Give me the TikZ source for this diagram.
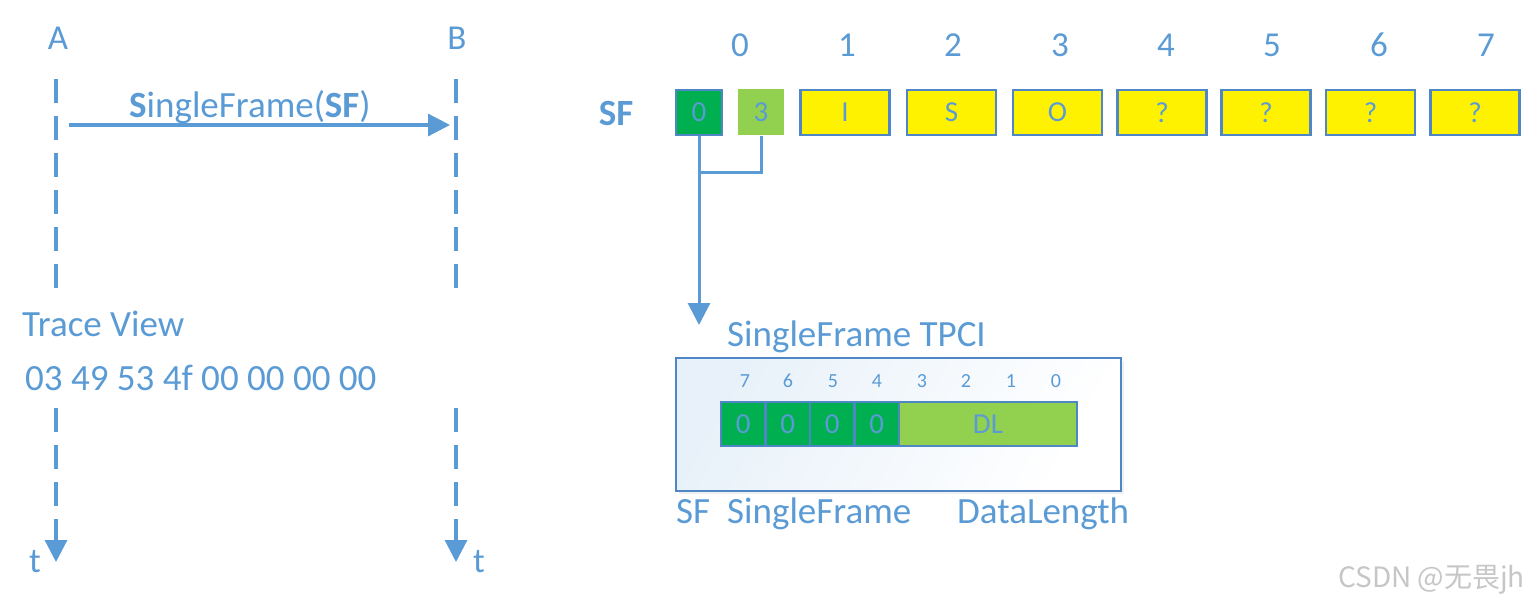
\documentclass[tikz,border=0pt]{standalone}
\usepackage{fontspec}
\setmainfont{Carlito}
\newfontfamily\cjkfont{Noto Sans CJK SC}
\usetikzlibrary{arrows.meta,shadows}
\definecolor{lineblue}{HTML}{5B9BD5}
\definecolor{edgeblue}{HTML}{4F86C6}
\definecolor{darkgreen}{HTML}{00B050}
\definecolor{lightgreen}{HTML}{92D050}

\begin{document}
\begin{tikzpicture}[x=1pt,y=-1pt,
  txt/.style={text=lineblue, inner sep=0pt, font=\fontsize{37}{40}\selectfont},
  hdr/.style={text=lineblue, inner sep=0pt, font=\fontsize{35}{38}\selectfont},
  bitnum/.style={text=lineblue, inner sep=0pt, font=\fontsize{20}{22}\selectfont},
  lifeline/.style={lineblue, line width=3.2pt, dash pattern=on 24pt off 13pt},
  flow/.style={lineblue, line width=3.2pt, -{Triangle[length=22pt,width=22pt]}},
  link/.style={lineblue, line width=3pt},
  bytebox/.style={draw=edgeblue, line width=2.4pt, minimum width=89pt, minimum height=45pt,
    inner sep=0pt, text=lineblue, font=\fontsize{29}{31}\selectfont},
  bitcell/.style={draw=edgeblue, line width=2.4pt, minimum width=44.5pt, minimum height=44pt,
    inner sep=0pt, fill=darkgreen, text=lineblue, font=\fontsize{29}{31}\selectfont}]
\useasboundingbox (0,0) rectangle (1534,602);

\node[hdr, anchor=base] (A) at (58,50) {A};
\node[hdr, anchor=base] (B) at (457,50) {B};
\coordinate (a1) at (56,79);
\coordinate (a2) at (56,290);
\coordinate (a3) at (56,408);
\coordinate (a4) at (56,562);
\coordinate (b1) at (456,79);
\coordinate (b2) at (456,290);
\coordinate (b3) at (456,408);
\coordinate (b4) at (456,562);
\draw[lifeline] (a1) -- (a2);
\draw[lifeline] (b1) -- (b2);
\draw[lifeline, -{Triangle[length=22pt,width=22pt]}] (a3) -- (a4);
\draw[lifeline, -{Triangle[length=22pt,width=22pt]}] (b3) -- (b4);
\coordinate (sfstart) at (69,125);
\coordinate (sfend) at (450,125);
\draw[flow] (sfstart) -- (sfend);
\node[txt, anchor=base west] (sfmsg) at (129,117) {\textbf{S}ingleFrame(\textbf{SF})};
\node[txt, anchor=base west] (trace) at (22,336) {Trace View};
\node[txt, anchor=base west] (bytes) at (25,390) {03 49 53 4f 00 00 00 00};
\node[hdr, anchor=base] (ta) at (35,572) {t};
\node[hdr, anchor=base] (tb) at (479,572) {t};

\node[hdr, anchor=base] (n0) at (740,57) {0};
\node[hdr, anchor=base] (n1) at (847,57) {1};
\node[hdr, anchor=base] (n2) at (953,57) {2};
\node[hdr, anchor=base] (n3) at (1060,57) {3};
\node[hdr, anchor=base] (n4) at (1166,57) {4};
\node[hdr, anchor=base] (n5) at (1272,57) {5};
\node[hdr, anchor=base] (n6) at (1379,57) {6};
\node[hdr, anchor=base] (n7) at (1486,57) {7};

\node[txt, anchor=base] (sflbl) at (616,125) {\textbf{SF}};
\node[bytebox, minimum width=46pt, fill=darkgreen] (byte0) at (699,112.5) {0};
\node[bytebox, draw=none, minimum width=46pt, minimum height=46pt, fill=lightgreen] (byte0b) at (761,112) {3};
\node[bytebox, fill=yellow] (byte1) at (845,112.5) {I};
\node[bytebox, fill=yellow] (byte2) at (951.5,112.5) {S};
\node[bytebox, fill=yellow] (byte3) at (1057.5,112.5) {O};
\node[bytebox, fill=yellow] (byte4) at (1162,112.5) {?};
\node[bytebox, fill=yellow] (byte5) at (1266,112.5) {?};
\node[bytebox, fill=yellow] (byte6) at (1370.5,112.5) {?};
\node[bytebox, fill=yellow] (byte7) at (1475,112.5) {?};

\coordinate (fork) at (699,172);
\coordinate (tip) at (699,325);
\draw[link] (byte0.south) -- (fork) -| (byte0b.south);
\draw[flow, line width=3pt] (fork) -- (tip);

\node[txt, anchor=base west] (tpcititle) at (727,346) {SingleFrame TPCI};
\node[draw=edgeblue, line width=2.4pt, minimum width=445pt, minimum height=133pt,
  left color=lineblue!14, right color=white, shading angle=60,
  drop shadow={opacity=0.12, shadow xshift=3pt, shadow yshift=-3pt}] (tpci) at (898.5,424.5) {};

\node[bitnum, anchor=base] (bit7) at (745,387) {7};
\node[bitnum, anchor=base] (bit6) at (788,387) {6};
\node[bitnum, anchor=base] (bit5) at (833,387) {5};
\node[bitnum, anchor=base] (bit4) at (877,387) {4};
\node[bitnum, anchor=base] (bit3) at (922,387) {3};
\node[bitnum, anchor=base] (bit2) at (966,387) {2};
\node[bitnum, anchor=base] (bit1) at (1011,387) {1};
\node[bitnum, anchor=base] (bit0) at (1056,387) {0};

\node[bitcell] (cell7) at (743.25,424) {0};
\node[bitcell] (cell6) at (787.75,424) {0};
\node[bitcell] (cell5) at (832.25,424) {0};
\node[bitcell] (cell4) at (876.75,424) {0};
\node[bitcell, minimum width=178pt, fill=lightgreen] (celldl) at (988,424) {DL};

\node[txt, anchor=base west] (legsf) at (676,523) {SF};
\node[txt, anchor=base west] (legsingle) at (727,523) {SingleFrame};
\node[txt, anchor=base west] (legdl) at (957,523) {DataLength};

\node[text=gray!45, inner sep=0pt, anchor=base west, font=\cjkfont\fontsize{28}{30}\selectfont] (mark) at (1338,587) {CSDN @无畏jh};
\end{tikzpicture}
\end{document}
